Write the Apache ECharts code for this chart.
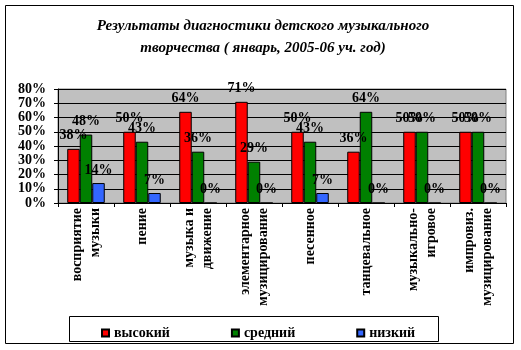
<!DOCTYPE html>
<html>
<head>
<meta charset="utf-8">
<script src="https://cdn.jsdelivr.net/npm/echarts@6/dist/echarts.min.js"></script>
<style>html,body{margin:0;padding:0;background:#fff;}#c{width:521px;height:350px;}</style>
</head>
<body>
<div id="c"></div>
<script>
const categories = ['восприятие\nмузыки','пение','музыка и\nдвижение','элементарное\nмузицирование','песенное','танцевальное','музыкально-\nигровое','импровиз.\nмузицирование'];
const seriesNames = ['высокий','средний','низкий'];
const high = [38,50,64,71,50,36,50,50];
const mid = [48,43,36,29,43,64,50,50];
const low = [14,7,0,0,7,0,0,0];
const colors = ['#FF0000','#008000','#3366FF'];
const titleText = 'Результаты диагностики детского музыкального\nтворчества ( январь, 2005-06 уч. год)';
const F = 'Liberation Serif, Times New Roman, serif';

const chart = echarts.init(document.getElementById('c'));
const mk = (name, data, color) => ({
  name, type: 'bar', data, barGap: '0%', barCategoryGap: '33%',
  itemStyle: {color, borderColor: '#000', borderWidth: 1},
  label: {show: true, position: 'top', distance: 6, formatter: '{c}%',
    fontFamily: F, fontWeight: 'bold', fontSize: 14, color: '#000'}
});
chart.setOption({
  animation: false,
  backgroundColor: '#fff',
  graphic: [
    {type: 'rect', shape: {x: 5.5, y: 5.5, width: 508, height: 338}, style: {fill: 'none', stroke: '#000', lineWidth: 1}, z: 0},
    {type: 'rect', shape: {x: 69.5, y: 316.5, width: 369, height: 25}, style: {fill: 'none', stroke: '#000', lineWidth: 1}, z: 0},
    {type: 'text', x: 263, y: 15, style: {text: titleText, font: 'italic bold 15px ' + F, textAlign: 'center', lineHeight: 22, fill: '#000'}}
  ],
  grid: {left: 58, right: 15, top: 89, bottom: 147, show: true, backgroundColor: '#C0C0C0', borderColor: '#808080', borderWidth: 1},
  legend: {left: 96, top: 321, itemWidth: 7, itemHeight: 7, itemGap: 61, icon: 'rect',
    textStyle: {fontFamily: F, fontWeight: 'bold', fontSize: 14, color: '#000'},
    data: seriesNames},
  xAxis: {type: 'category', data: categories,
    axisLine: {lineStyle: {color: '#000'}},
    axisTick: {show: true, length: 4, lineStyle: {color: '#000'}},
    axisLabel: {interval: 0, rotate: 90, margin: 5, fontFamily: F, fontWeight: 'bold', fontSize: 14, lineHeight: 18, color: '#000'}},
  yAxis: {type: 'value', min: 0, max: 80, interval: 10,
    axisLine: {show: true, lineStyle: {color: '#000'}},
    axisTick: {show: true, length: 4, lineStyle: {color: '#000'}},
    splitLine: {lineStyle: {color: '#000'}},
    axisLabel: {formatter: '{value}%', margin: 12, fontFamily: F, fontWeight: 'bold', fontSize: 14, color: '#000'}},
  series: [mk(seriesNames[0], high, colors[0]), mk(seriesNames[1], mid, colors[1]), mk(seriesNames[2], low, colors[2])]
});
</script>
</body>
</html>
